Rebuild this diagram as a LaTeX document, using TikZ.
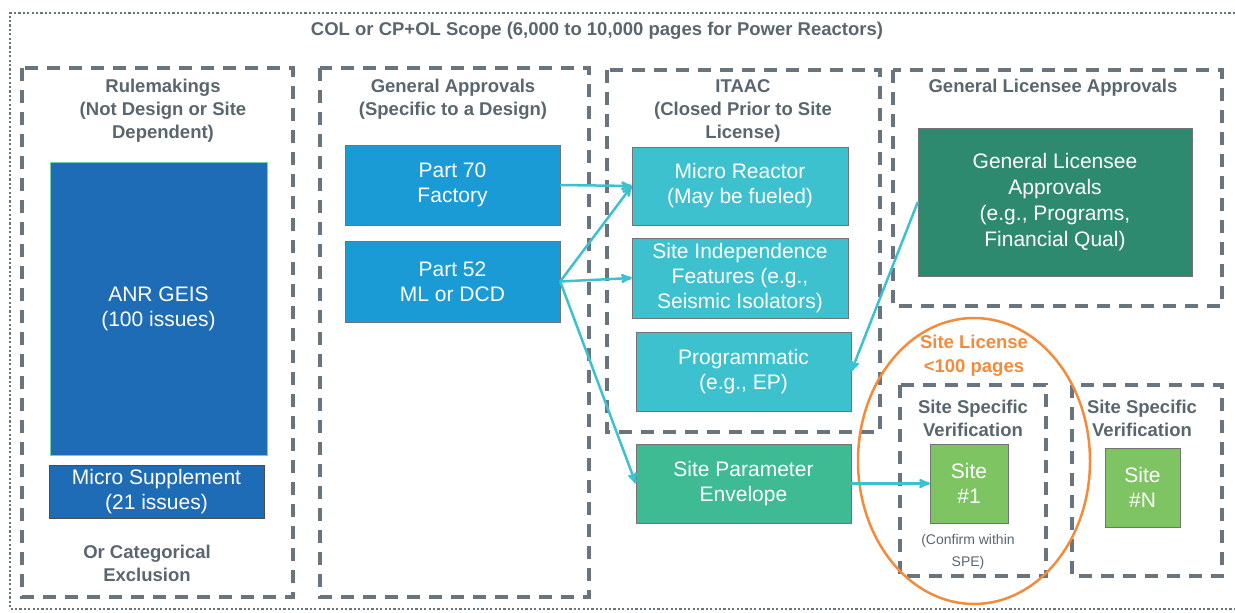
\documentclass[tikz,border=0pt]{standalone}
\usepackage{fontspec}
\setmainfont{Liberation Sans}
\usetikzlibrary{arrows,positioning,shapes}
\definecolor{rammegraa}{RGB}{104,117,126}
\definecolor{tekstgraa}{RGB}{90,102,110}
\definecolor{anrblaa}{RGB}{31,108,182}
\definecolor{partblaa}{RGB}{26,155,214}
\definecolor{itaacblaa}{RGB}{62,193,206}
\definecolor{spegroenn}{RGB}{62,187,146}
\definecolor{glagroenn}{RGB}{46,138,110}
\definecolor{sitegroenn}{RGB}{126,196,98}
\definecolor{oransje}{RGB}{242,140,60}
\tikzset{
  >=stealth',
  ramme/.style={draw=rammegraa, line width=3.5pt, dash pattern=on 13pt off 9pt},
  boks/.style={rectangle, draw=black!55, thin, text=white, align=center, inner sep=2pt,
               font=\fontsize{21}{25}\selectfont},
  overskrift/.style={text=tekstgraa, align=center, font=\bfseries\fontsize{18.5}{23}\selectfont},
  pil/.style={draw=itaacblaa, line width=2.5pt, ->}
}

\begin{document}
\begin{tikzpicture}[x=1pt,y=-1pt]
\useasboundingbox (0,0) rectangle (1235,613);
% outer scope
\draw[rammegraa, line width=2.2pt, dash pattern=on 2.2pt off 2.2pt] (1235,13) -| (10,609) -- (1235,609);
\node[overskrift] (scope) at (597,31) {COL or CP+OL Scope (6,000 to 10,000 pages for Power Reactors)};
% groups
\draw[ramme] (22,68) rectangle (293,597);
\draw[ramme] (320,68) rectangle (589,597);
\draw[ramme] (607,70) rectangle (880,432);
\draw[ramme] (893,70) rectangle (1222,306);
\draw[ramme] (900,385) rectangle (1046,576);
\draw[ramme] (1072,385) rectangle (1222,576);
\node[overskrift] (rule) at (163,111) {Rulemakings\\(Not Design or Site\\Dependent)};
\node[overskrift] (genapp) at (453,99) {General Approvals\\(Specific to a Design)};
\node[overskrift] (itaac) at (743,111) {ITAAC\\(Closed Prior to Site\\License)};
\node[overskrift] (gla) at (1053,88) {General Licensee Approvals};
\node[overskrift] (catex) at (147,563) {Or Categorical\\Exclusion};
\node[overskrift] (ssv1) at (973,418) {Site Specific\\Verification};
\node[overskrift] (ssv2) at (1142,418) {Site Specific\\Verification};
% boxes
\node[boks, fill=anrblaa, draw=spegroenn!70, minimum width=217pt, minimum height=293pt] (geis) at (158.5,308.5) {ANR GEIS\\(100 issues)};
\node[boks, fill=anrblaa, draw=black!70, minimum width=215pt, minimum height=53pt] (supp) at (156.5,491.5) {Micro Supplement\\(21 issues)};
\node[boks, fill=partblaa, minimum width=215pt, minimum height=80pt] (p70) at (452.5,185) {Part 70\\Factory};
\node[boks, fill=partblaa, minimum width=215pt, minimum height=81pt] (p52) at (452.5,281.5) {Part 52\\ML or DCD};
\node[boks, fill=itaacblaa, minimum width=216pt, minimum height=78pt] (mr) at (740,186) {Micro Reactor\\(May be fueled)};
\node[boks, fill=itaacblaa, minimum width=216pt, minimum height=80pt] (sif) at (740,278) {Site Independence\\Features (e.g.,\\Seismic Isolators)};
\node[boks, fill=itaacblaa, minimum width=215pt, minimum height=79pt] (prog) at (743.5,371.5) {Programmatic\\(e.g., EP)};
\node[boks, fill=spegroenn, minimum width=215pt, minimum height=79pt] (spe) at (743.5,483.5) {Site Parameter\\Envelope};
\node[boks, fill=glagroenn, minimum width=274pt, minimum height=148pt, font=\fontsize{21}{26}\selectfont] (glabox) at (1055,202) {General Licensee\\Approvals\\(e.g., Programs,\\Financial Qual)};
\node[boks, fill=sitegroenn, minimum width=78pt, minimum height=79pt] (site1) at (969,483.5) {Site\\\#1};
\node[boks, fill=sitegroenn, minimum width=75pt, minimum height=79pt] (siten) at (1142.5,487.5) {Site\\\#N};
\node[text=tekstgraa, align=center, font=\fontsize{14}{22}\selectfont] (confirm) at (968,552) {(Confirm within\\SPE)};
% site license
\draw[oransje, line width=2.5pt] (974,461) ellipse [x radius=116pt, y radius=143pt];
\node[text=oransje, align=center, font=\bfseries\fontsize{18.5}{24}\selectfont] (sitelic) at (974,356) {Site License\\<100 pages};
% arrows
\draw[pil] (p70.east) -- (mr.west);
\draw[pil] (p52.east) -- (mr.west);
\draw[pil] (p52.east) -- (sif.west);
\draw[pil] (p52.east) -- (spe.west);
\draw[pil] (glabox.west) -- (prog.east);
\draw[pil] (spe.east) -- (site1.west);
\end{tikzpicture}
\end{document}
